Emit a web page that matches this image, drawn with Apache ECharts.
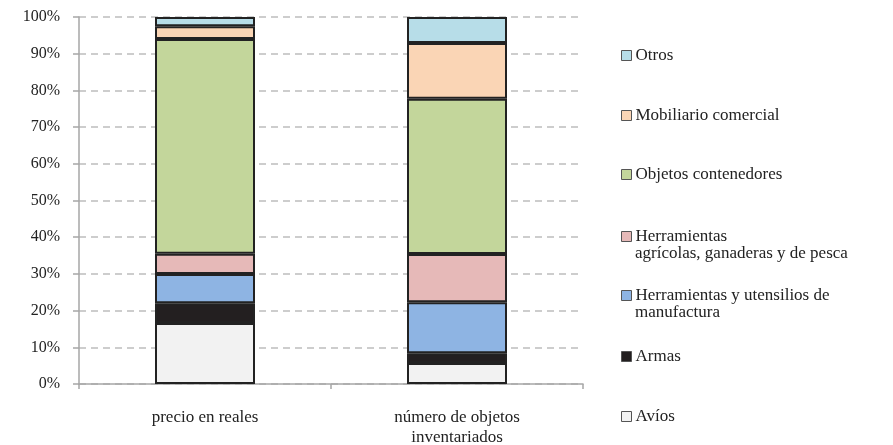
<!DOCTYPE html>
<html>
<head>
<meta charset="utf-8">
<script src="https://cdn.jsdelivr.net/npm/echarts@6/dist/echarts.min.js"></script>
<style>
  html, body { margin: 0; padding: 0; background: #fff; }
  #chart { width: 893px; height: 445px; }
</style>
</head>
<body>
<div id="chart"></div>
<script>
// data (percent of each column)
var categories = ["precio en reales", "número de objetos\ninventariados"];
var seriesNames = [
  "Avíos",
  "Armas",
  "Herramientas y utensilios de manufactura",
  "Herramientas agrícolas, ganaderas y de pesca",
  "Objetos contenedores",
  "Mobiliario comercial",
  "Otros"
];
var avios = [16.6, 5.7];
var armas = [5.4, 2.7];
var herrManufactura = [8.0, 13.9];
var herrAgricolas = [5.5, 13.1];
var contenedores = [58.5, 42.3];
var mobiliario = [3.5, 15.2];
var otros = [2.5, 7.1];
var seriesValues = [avios, armas, herrManufactura, herrAgricolas, contenedores, mobiliario, otros];
var colors = ["#f2f2f2", "#231f20", "#8eb4e3", "#e6b9b8", "#c3d69b", "#fad5b5", "#b7dde8"];

// legend text: first line next to the swatch, second line below it
var legendFirstLine = ["Avíos", "Armas", "Herramientas y utensilios de", "Herramientas", "Objetos contenedores", "Mobiliario comercial", "Otros"];
var legendSecondLine = ["", "", "manufactura", "agrícolas, ganaderas y de pesca", "", "", ""];
var legendCenterY = [412, 352, 291, 232, 170, 111, 51];

var font = '"Liberation Serif", "Times New Roman", serif';
var chart = echarts.init(document.getElementById("chart"));

var series = [];
var legends = [];
var graphics = [];
for (var i = 0; i < seriesNames.length; i++) {
  series.push({
    name: seriesNames[i],
    type: "bar",
    stack: "total",
    barWidth: 100,
    data: seriesValues[i],
    itemStyle: { color: colors[i], borderColor: "#222", borderWidth: 2 }
  });
  legends.push({
    data: [seriesNames[i]],
    left: 616,
    top: legendCenterY[i] - 9,
    itemWidth: 10,
    itemHeight: 10,
    icon: "rect",
    selectedMode: false,
    itemStyle: { borderColor: "#555", borderWidth: 1 },
    textStyle: { fontFamily: font, fontSize: 17, color: "#222", padding: [0, 0, 0, -1] },
    formatter: (function (k) { return function () { return legendFirstLine[k]; }; })(i)
  });
  if (legendSecondLine[i]) {
    graphics.push({
      type: "text",
      left: 635,
      top: legendCenterY[i] + 13,
      style: { text: legendSecondLine[i], font: "17px " + font, fill: "#222" }
    });
  }
}

chart.setOption({
  animation: false,
  grid: { left: 79, right: 310, top: 17, bottom: 61, containLabel: false, outerBoundsMode: "none" },
  legend: legends,
  graphic: graphics,
  xAxis: {
    type: "category",
    data: categories,
    axisLine: { lineStyle: { color: "#a6a6a6", width: 1.5 } },
    axisTick: { show: true, length: 5, lineStyle: { color: "#a6a6a6", width: 1.5 } },
    axisLabel: { fontFamily: font, fontSize: 17, color: "#222", margin: 24, lineHeight: 20 }
  },
  yAxis: {
    type: "value",
    min: 0,
    max: 100,
    interval: 10,
    axisLine: { show: true, lineStyle: { color: "#a6a6a6", width: 1.5 } },
    axisTick: { show: true, length: 6, lineStyle: { color: "#a6a6a6", width: 1.5 } },
    axisLabel: { formatter: "{value}%", fontFamily: font, fontSize: 16, color: "#222", margin: 19 },
    splitLine: { lineStyle: { color: "#bdbdbd", width: 1.5, type: [7, 5] } }
  },
  series: series
});
</script>
</body>
</html>
